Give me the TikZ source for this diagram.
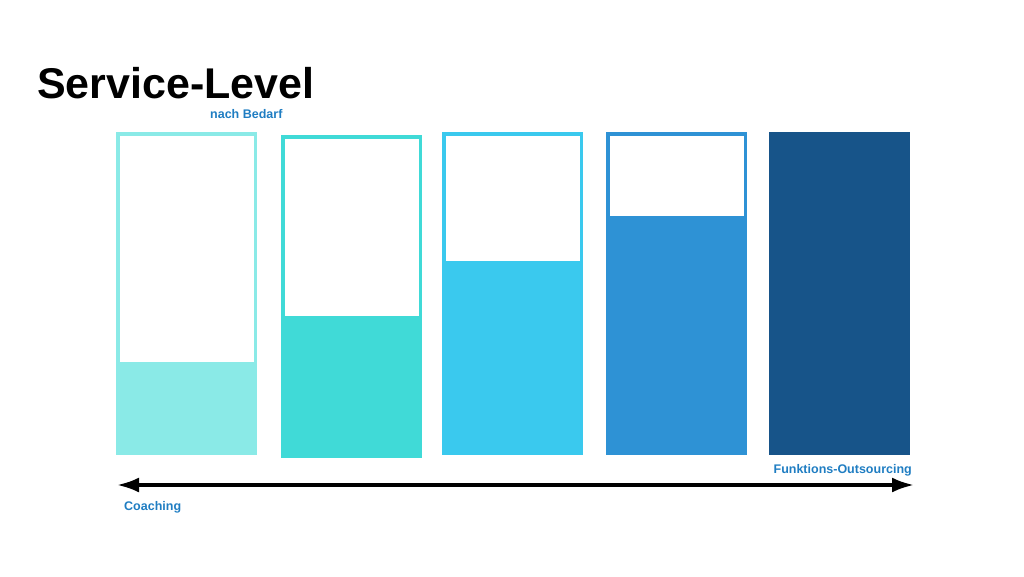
\documentclass[tikz,border=0pt]{standalone}
\usepackage{fontspec}
\setmainfont{Liberation Sans}
\usetikzlibrary{arrows.meta}
\definecolor{cA}{HTML}{8AEAE7}
\definecolor{cB}{HTML}{40DAD7}
\definecolor{cC}{HTML}{3AC9EE}
\definecolor{cD}{HTML}{2E92D5}
\definecolor{cE}{HTML}{175489}
\definecolor{lbl}{HTML}{1F7DC2}
\begin{document}
\begin{tikzpicture}[x=1pt,y=-1pt,
  barframe/.style={line width=3.5pt},
  lbltext/.style={font=\bfseries\fontsize{12.5}{14}\selectfont, text=lbl, inner sep=0pt},
  axis/.style={line width=3.5pt, {Latex[length=22pt,width=15pt]}-{Latex[length=22pt,width=15pt]}}]
\useasboundingbox (0,0) rectangle (1024,576);
% title
\node[anchor=base west, inner sep=0pt, font=\bfseries\fontsize{43}{48}\selectfont] (title) at (37,98) {Service-Level};
\node[lbltext, anchor=base west] (bedarf) at (210,118) {nach Bedarf};
% bars
\fill[cA] (116,362) rectangle (257,455);
\draw[barframe, cA] (117.75,133.75) rectangle (255.25,453.25);
\fill[cB] (281,316) rectangle (422,458);
\draw[barframe, cB] (282.75,136.75) rectangle (420.25,456.25);
\fill[cC] (442,261) rectangle (583,455);
\draw[barframe, cC] (443.75,133.75) rectangle (581.25,453.25);
\fill[cD] (606,216) rectangle (747,455);
\draw[barframe, cD] (607.75,133.75) rectangle (745.25,453.25);
\fill[cE] (769,132) rectangle (910,455);
% arrow
\coordinate (left) at (117,485);
\coordinate (right) at (914,485);
\draw[axis] (left) -- (right);
\node[lbltext, anchor=base west] (coach) at (124,510) {Coaching};
\node[lbltext, anchor=base east] (outs) at (912,473) {Funktions-Outsourcing};
\end{tikzpicture}
\end{document}
